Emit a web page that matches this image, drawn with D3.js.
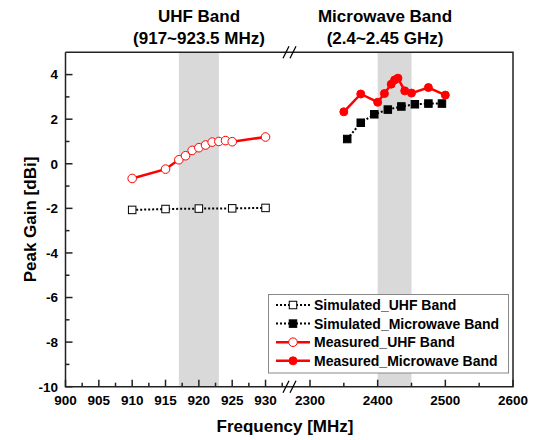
<!DOCTYPE html>
<html><head><meta charset="utf-8">
<script src="https://cdn.jsdelivr.net/npm/d3@7"></script>
<style>body{margin:0;background:#fff}svg{display:block}text{font-family:"Liberation Sans",Arial,sans-serif;font-weight:bold;fill:#000}</style>
</head><body>
<script>
// ---- data ----
const uhfMeasFreq = [910, 915, 917, 918, 919, 920, 921, 922, 923, 924, 925, 930];
const uhfMeasGain = [-0.66, -0.24, 0.18, 0.36, 0.60, 0.72, 0.84, 0.97, 1.00, 1.04, 0.99, 1.20];
const uhfSimFreq = [910, 915, 920, 925, 930];
const uhfSimGain = [-2.07, -2.03, -2.01, -2.00, -1.98];
const mwMeasFreq = [2350, 2375, 2400, 2410, 2420, 2425, 2430, 2440, 2450, 2475, 2500];
const mwMeasGain = [2.33, 3.13, 2.76, 3.15, 3.57, 3.76, 3.84, 3.27, 3.17, 3.42, 3.08];
const mwSimFreq = [2355, 2375, 2395, 2415, 2435, 2455, 2475, 2495];
const mwSimGain = [1.11, 1.84, 2.22, 2.43, 2.57, 2.67, 2.70, 2.70];
const uhfTicks = [900, 905, 910, 915, 920, 925, 930];
const uhfMinor = [902.5, 907.5, 912.5, 917.5, 922.5, 927.5, 932.5];
const mwTicks = [2300, 2400, 2500, 2600];
const mwMinor = [2350, 2450, 2550];
const yTicks = [-10, -8, -6, -4, -2, 0, 2, 4];
const yMinor = [-9, -7, -5, -3, -1, 1, 3];
const uhfBand = [917, 923];
const mwBand = [2400, 2450];
const legendItems = ["Simulated_UHF Band", "Simulated_Microwave Band", "Measured_UHF Band", "Measured_Microwave Band"];

const W = 539, H = 440;
const L = 65.5, R = 513, T = 52.3, B = 386.7;
const xL = d3.scaleLinear().domain([900, 932.5]).range([L, 282.2]);
const xR = d3.scaleLinear().domain([2300, 2600]).range([310, R]);
const y = d3.scaleLinear().domain([-10, 5]).range([B, T]);

const svg = d3.select("body").append("svg").attr("width", W).attr("height", H);

// bands
svg.append("rect").attr("x", xL(uhfBand[0])).attr("y", T).attr("width", xL(uhfBand[1]) - xL(uhfBand[0])).attr("height", B - T).attr("fill", "#d9d9d9");
svg.append("rect").attr("x", xR(mwBand[0])).attr("y", T).attr("width", xR(mwBand[1]) - xR(mwBand[0])).attr("height", B - T).attr("fill", "#d9d9d9");

function series(fx, fy, xs, kind) {
  const pts = xs.map((f, i) => [fx(f), y(fy[i])]);
  const line = d3.line();
  const g = svg.append("g");
  if (kind.dotted) {
    g.append("path").attr("d", line(pts)).attr("fill", "none").attr("stroke", "#000").attr("stroke-width", 2).attr("stroke-dasharray", "2,2");
  } else {
    g.append("path").attr("d", line(pts)).attr("fill", "none").attr("stroke", "#ff0000").attr("stroke-width", 2.5);
  }
  pts.forEach(p => drawMarker(g, p[0], p[1], kind));
}
function drawMarker(g, cx, cy, kind) {
  if (kind.shape === "square") {
    const s = kind.filled ? 7.5 : 7.5;
    g.append("rect").attr("x", cx - s / 2).attr("y", cy - s / 2).attr("width", s).attr("height", s)
      .attr("fill", kind.filled ? "#000" : "#fff").attr("stroke", "#000").attr("stroke-width", 1);
  } else {
    g.append("circle").attr("cx", cx).attr("cy", cy).attr("r", kind.filled ? 4 : 4.3)
      .attr("fill", kind.filled ? "#ff0000" : "#fff").attr("stroke", "#ff0000").attr("stroke-width", 1);
  }
}
const kinds = [
  {dotted: true, shape: "square", filled: false},
  {dotted: true, shape: "square", filled: true},
  {dotted: false, shape: "circle", filled: false},
  {dotted: false, shape: "circle", filled: true}
];
series(xL, uhfSimGain, uhfSimFreq, kinds[0]);
series(xR, mwSimGain, mwSimFreq, kinds[1]);
series(xL, uhfMeasGain, uhfMeasFreq, kinds[2]);
series(xR, mwMeasGain, mwMeasFreq, kinds[3]);

// frame
const ax = svg.append("g").attr("stroke", "#222").attr("stroke-width", 1.5).attr("fill", "none");
ax.append("path").attr("d", `M${L},${T}V${B}H${R}V${T}H${L}`).attr("stroke-linejoin", "miter");

// ticks
yTicks.forEach(v => ax.append("line").attr("x1", L).attr("x2", L + 7).attr("y1", y(v)).attr("y2", y(v)));
yMinor.forEach(v => ax.append("line").attr("x1", L).attr("x2", L + 4).attr("y1", y(v)).attr("y2", y(v)));
uhfTicks.forEach(v => ax.append("line").attr("x1", xL(v)).attr("x2", xL(v)).attr("y1", B).attr("y2", B - 7));
uhfMinor.forEach(v => ax.append("line").attr("x1", xL(v)).attr("x2", xL(v)).attr("y1", B).attr("y2", B - 4));
mwTicks.forEach(v => ax.append("line").attr("x1", xR(v)).attr("x2", xR(v)).attr("y1", B).attr("y2", B - 7));
mwMinor.forEach(v => ax.append("line").attr("x1", xR(v)).attr("x2", xR(v)).attr("y1", B).attr("y2", B - 4));

// break marks
[B, T].forEach(yy => {
  [283, 290].forEach(x0 => {
    ax.append("line").attr("x1", x0).attr("y1", yy + 6).attr("x2", x0 + 6).attr("y2", yy - 6).attr("stroke", "#000").attr("stroke-width", 1.2);
  });
});

// tick labels
const tl = svg.append("g").attr("font-size", "13.5px");
yTicks.forEach(v => tl.append("text").attr("x", 58).attr("y", y(v)).attr("dy", "0.36em").attr("text-anchor", "end").text(v));
uhfTicks.forEach(v => tl.append("text").attr("x", xL(v)).attr("y", 405).attr("text-anchor", "middle").text(v));
mwTicks.forEach(v => tl.append("text").attr("x", xR(v)).attr("y", 405).attr("text-anchor", "middle").text(v));

// axis titles
svg.append("text").attr("x", 285).attr("y", 432).attr("text-anchor", "middle").attr("font-size", "17px").text("Frequency [MHz]");
svg.append("text").attr("transform", `translate(36,${(T + B) / 2}) rotate(-90)`).attr("text-anchor", "middle").attr("font-size", "17px").text("Peak Gain [dBi]");

// band titles
const tt = svg.append("g").attr("font-size", "17px").attr("text-anchor", "middle");
tt.append("text").attr("x", 199).attr("y", 22).text("UHF Band");
tt.append("text").attr("x", 199).attr("y", 44).text("(917~923.5 MHz)");
tt.append("text").attr("x", 385).attr("y", 22).text("Microwave Band");
tt.append("text").attr("x", 385).attr("y", 44).text("(2.4~2.45 GHz)");

// legend
const lg = svg.append("g");
lg.append("rect").attr("x", 268.5).attr("y", 294.5).attr("width", 240).attr("height", 78.5).attr("fill", "#fff").attr("stroke", "#888").attr("stroke-width", 1);
const rowY = [305, 323.6, 342.2, 360.8];
legendItems.forEach((name, i) => {
  const k = kinds[i];
  const yy = rowY[i];
  const ln = lg.append("line").attr("x1", 276).attr("x2", 310).attr("y1", yy).attr("y2", yy);
  if (k.dotted) ln.attr("stroke", "#000").attr("stroke-width", 2).attr("stroke-dasharray", "2,2");
  else ln.attr("stroke", "#ff0000").attr("stroke-width", 2.5);
  drawMarker(lg, 293, yy, k);
  lg.append("text").attr("x", 314).attr("y", yy).attr("dy", "0.36em").attr("font-size", "14px").text(name);
});
</script>
</body></html>
